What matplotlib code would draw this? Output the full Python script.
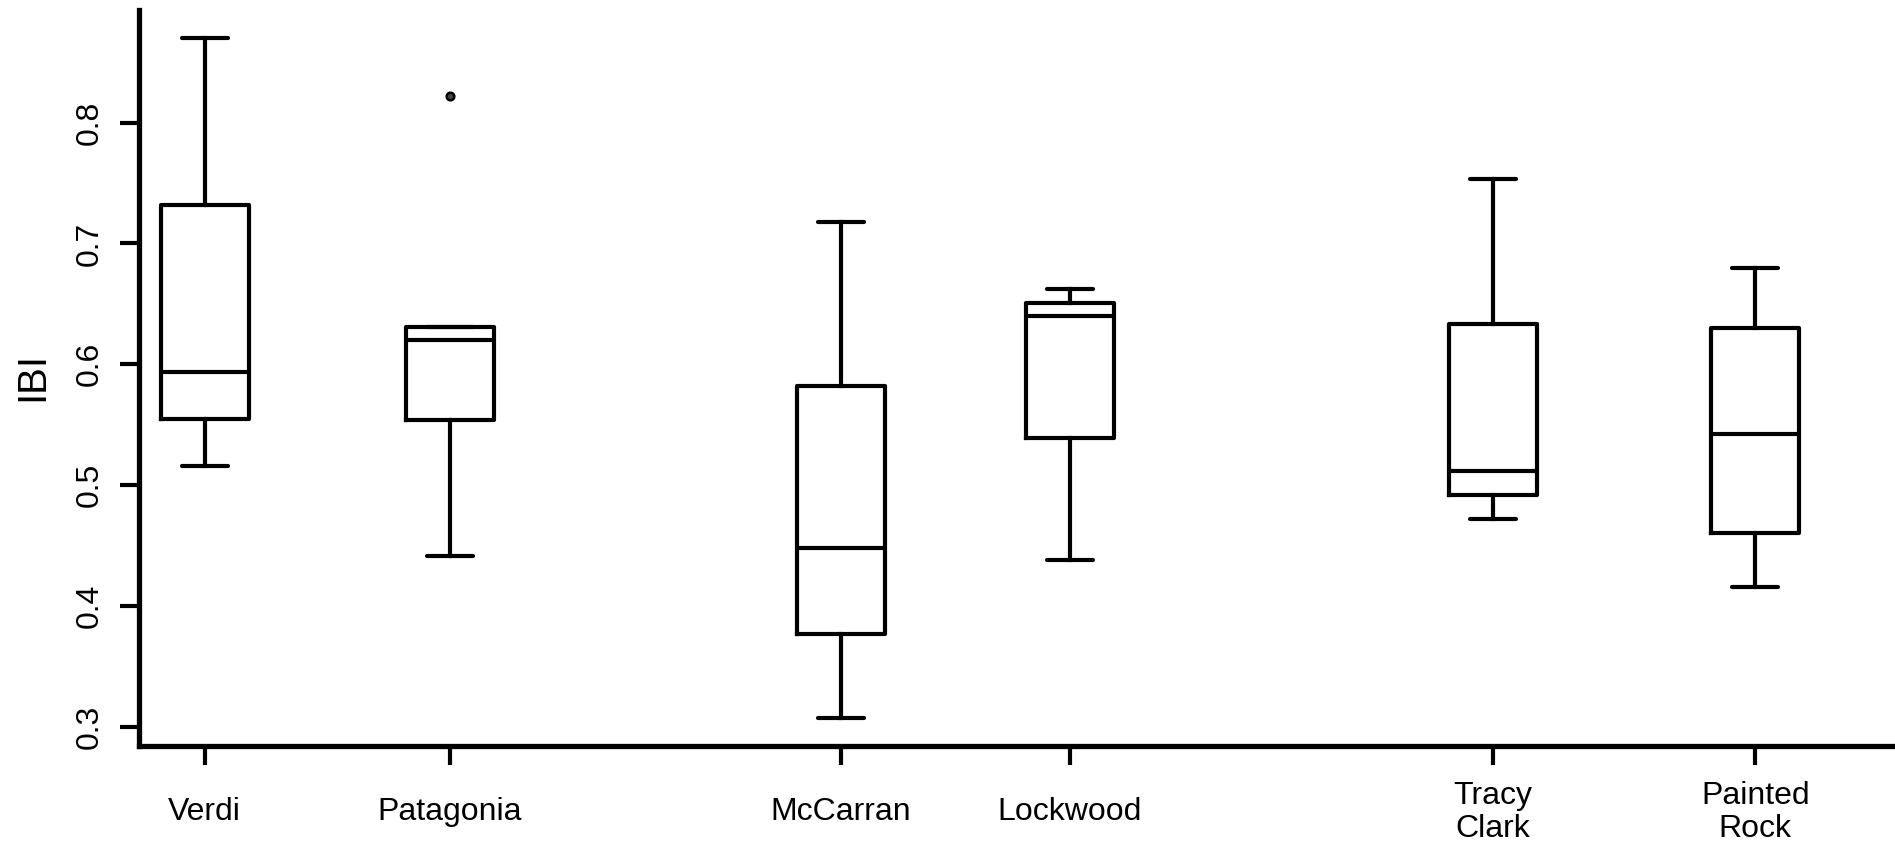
import matplotlib
matplotlib.use("Agg")
import matplotlib.pyplot as plt

# ---- data ----
sites = ["Verdi", "Patagonia", "McCarran", "Lockwood", "Tracy\nClark", "Painted\nRock"]
positions = [1.0, 2.0, 3.597, 4.530, 6.258, 7.329]
whislo = [0.516, 0.441, 0.307, 0.438, 0.472, 0.416]
q1     = [0.555, 0.554, 0.377, 0.539, 0.492, 0.460]
med    = [0.594, 0.620, 0.448, 0.640, 0.512, 0.542]
q3     = [0.732, 0.631, 0.582, 0.651, 0.633, 0.630]
whishi = [0.870, 0.631, 0.718, 0.662, 0.753, 0.680]
fliers = [[], [0.822], [], [], [], []]
yticks = [0.3, 0.4, 0.5, 0.6, 0.7, 0.8]
ylabel = "IBI"

plt.rcParams['font.family'] = ['Liberation Sans', 'DejaVu Sans']

W, H = 1895, 843
fig = plt.figure(figsize=(W / 100, H / 100), dpi=100)
left = 139 / W
bottom = 1 - 745.5 / H
top = 1 - 10 / H
ax = fig.add_axes([left, bottom, 1 - left, top - bottom])

stats = []
for i in range(len(sites)):
    stats.append(dict(whislo=whislo[i], q1=q1[i], med=med[i], q3=q3[i],
                      whishi=whishi[i], fliers=fliers[i], label=sites[i]))

lw = 3.0
ax.bxp(stats, positions=positions, widths=0.359, capwidths=0.188,
       showfliers=True,
       boxprops=dict(color='black', linewidth=lw),
       whiskerprops=dict(color='black', linewidth=lw, linestyle='-'),
       capprops=dict(color='black', linewidth=lw, solid_capstyle='round'),
       medianprops=dict(color='black', linewidth=lw),
       flierprops=dict(marker='o', markersize=5.5, markerfacecolor='#444444',
                       markeredgecolor='black', markeredgewidth=1.8))

ax.set_xlim(0.7318, 1 + (W - 204.7) / 245)
ax.set_ylim(0.2846, 0.8931)

for s in ['top', 'right']:
    ax.spines[s].set_visible(False)
for s in ['left', 'bottom']:
    ax.spines[s].set_linewidth(3.8)
    ax.spines[s].set_capstyle('projecting')

ax.set_yticks(yticks)
ax.set_yticklabels([f"{v:.1f}" for v in yticks])
ax.tick_params(axis='y', length=14, width=3.0, labelsize=23, pad=11)
plt.setp(ax.get_yticklabels(), rotation=90, va='center')

ax.set_xticks(positions)
ax.set_xticklabels(sites)
ax.tick_params(axis='x', length=14, width=3.0, labelsize=23, pad=34)
for t in ax.get_xticklabels():
    t.set_va('center')
    t.set_linespacing(1.12)
    t.set_multialignment('center')

fig.text(32 / W, 1 - 376.5 / H, ylabel, rotation=90, ha='center', va='center',
         fontsize=29)

fig.savefig("out.png", dpi=100)
